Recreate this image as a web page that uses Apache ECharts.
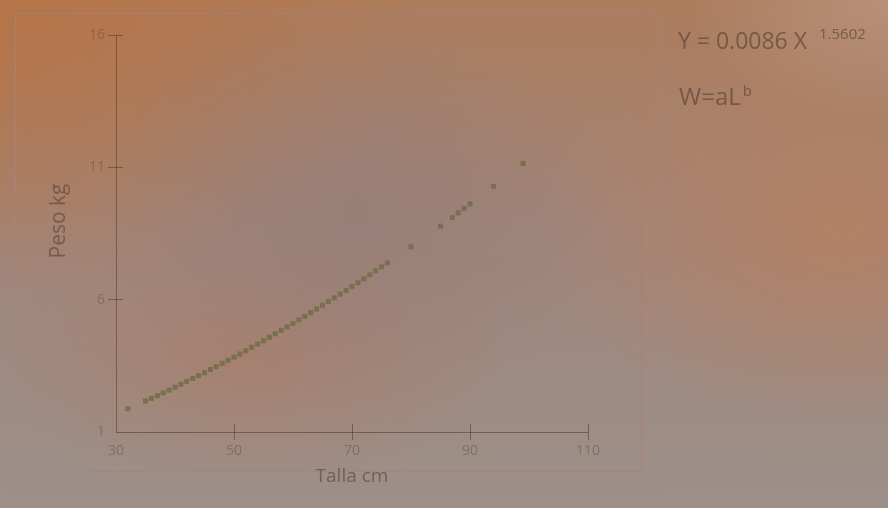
<!DOCTYPE html>
<html>
<head>
<meta charset="utf-8">
<script src="https://cdn.jsdelivr.net/npm/echarts@6/dist/echarts.min.js"></script>
<style>
    html, body { margin: 0; padding: 0; }
    body {
        width: 888px; height: 508px; overflow: hidden;
        background:
            radial-gradient(ellipse 260px 200px at 40% 42%, rgba(150,125,118,0.75), rgba(150,125,118,0) 100%),
            radial-gradient(ellipse 420px 300px at 0% 0%, rgba(182,116,72,0.95), rgba(182,116,72,0) 100%),
            radial-gradient(ellipse 200px 120px at 100% 0%, rgba(186,150,130,0.8), rgba(186,150,130,0) 100%),
            radial-gradient(ellipse 300px 200px at 95% 45%, rgba(184,128,96,0.8), rgba(184,128,96,0) 100%),
            radial-gradient(ellipse 260px 140px at 28% 70%, rgba(172,122,100,0.6), rgba(172,122,100,0) 100%),
            linear-gradient(to bottom, #ad7c5c 0%, #a0857a 45%, #9c9089 100%);
    }
    #chart { width: 888px; height: 508px; }
</style>
</head>
<body>
<div id="chart"></div>
<script>
    // talla (cm) vs peso (kg)
    var talla = [32, 35, 36, 37, 38, 39, 40, 41, 42, 43, 44, 45, 46, 47, 48, 49, 50,
                 51, 52, 53, 54, 55, 56, 57, 58, 59, 60, 61, 62, 63, 64, 65, 66, 67,
                 68, 69, 70, 71, 72, 73, 74, 75, 76, 80, 85, 87, 88, 89, 90, 94, 99];
    var peso = [1.88, 2.17, 2.27, 2.37, 2.48, 2.58, 2.69, 2.80, 2.91, 3.02, 3.13, 3.24,
                3.36, 3.47, 3.59, 3.71, 3.83, 3.95, 4.07, 4.20, 4.32, 4.45, 4.58, 4.71,
                4.84, 4.97, 5.10, 5.24, 5.37, 5.51, 5.65, 5.79, 5.93, 6.07, 6.21, 6.35,
                6.50, 6.64, 6.79, 6.94, 7.09, 7.24, 7.39, 8.00, 8.78, 9.10, 9.28, 9.45,
                9.62, 10.28, 11.15];
    var xTicks = [50, 70, 90, 110];
    var yTicks = [6, 11, 16];

    var points = [];
    talla.forEach(function (t, i) {
        points.push([t, peso[i]]);
    });

    var axisColor = 'rgba(85,55,35,0.55)';
    var labelColor = 'rgba(95,75,65,0.45)';
    var nameColor = 'rgba(85,65,55,0.6)';
    var noteColor = 'rgba(100,75,60,0.75)';

    var chart = echarts.init(document.getElementById('chart'), null, {renderer: 'canvas'});
    chart.setOption({
        backgroundColor: 'transparent',
        animation: false,
        grid: {left: 116, right: 300, top: 35, bottom: 76},
        xAxis: [{
            type: 'value', min: 30, max: 110, interval: 20, position: 'bottom',
            name: 'Talla cm', nameLocation: 'middle', nameGap: 35,
            nameTextStyle: {color: nameColor, fontSize: 19, fontFamily: 'Open Sans'},
            axisLine: {show: true, lineStyle: {color: axisColor, width: 1}},
            axisTick: {show: true, inside: true, length: 8, customValues: xTicks,
                lineStyle: {color: axisColor}},
            axisLabel: {color: labelColor, fontSize: 14, margin: 12, fontFamily: 'Open Sans'},
            splitLine: {show: false}
        }, {
            // second copy only for the half of each tick below the line
            type: 'value', min: 30, max: 110, interval: 20, position: 'bottom',
            axisLine: {show: false},
            axisTick: {show: true, length: 8, customValues: xTicks, lineStyle: {color: axisColor}},
            axisLabel: {show: false},
            splitLine: {show: false}
        }],
        yAxis: [{
            type: 'value', min: 1, max: 16, interval: 5, position: 'left',
            axisLine: {show: true, lineStyle: {color: axisColor, width: 1}},
            axisTick: {show: true, inside: true, length: 7, customValues: yTicks,
                lineStyle: {color: axisColor}},
            axisLabel: {color: labelColor, fontSize: 14, margin: 11, fontFamily: 'Open Sans'},
            splitLine: {show: false}
        }, {
            type: 'value', min: 1, max: 16, interval: 5, position: 'left',
            axisLine: {show: false},
            axisTick: {show: true, length: 8, customValues: yTicks, lineStyle: {color: axisColor}},
            axisLabel: {show: false},
            splitLine: {show: false}
        }],
        series: [{
            type: 'scatter',
            xAxisIndex: 0,
            yAxisIndex: 0,
            data: points,
            symbol: 'rect',
            symbolSize: 5,
            itemStyle: {color: '#6e6a42'}
        }],
        graphic: [
            {type: 'rect', silent: true, shape: {x: 15.5, y: 13.5, width: 643, height: 482},
                style: {fill: 'none', stroke: 'rgba(150,140,150,0.45)', lineWidth: 1}},
            {type: 'polyline', silent: true, shape: {points: [[88, 471.5], [641.5, 471.5], [641.5, 13]]},
                style: {fill: 'none', stroke: 'rgba(190,110,100,0.35)', lineWidth: 1}},
            {type: 'text', x: 59, y: 221, rotation: Math.PI / 2, silent: true,
                style: {text: 'Peso kg', fontSize: 21, fontFamily: 'Open Sans', fill: nameColor,
                    align: 'center', verticalAlign: 'middle'}},
            {type: 'text', left: 678, top: 27, silent: true,
                style: {text: '{m|Y = 0.0086 X }{s|1.5602}', fontFamily: 'Open Sans', fill: noteColor,
                    rich: {
                        m: {fontSize: 23, lineHeight: 30, fill: noteColor, fontFamily: 'Open Sans'},
                        s: {fontSize: 15, lineHeight: 30, fill: noteColor, fontFamily: 'Open Sans',
                            verticalAlign: 'top', padding: [0, 0, 0, 6]}
                    }}},
            {type: 'text', left: 679, top: 83, silent: true,
                style: {text: '{m|W=aL}{s|b}', fontFamily: 'Open Sans', fill: noteColor,
                    rich: {
                        m: {fontSize: 24, lineHeight: 31, fill: noteColor, fontFamily: 'Open Sans'},
                        s: {fontSize: 15, lineHeight: 31, fill: noteColor, fontFamily: 'Open Sans',
                            verticalAlign: 'top', padding: [1, 0, 0, 2]}
                    }}}
        ]
    });
</script>
</body>
</html>
